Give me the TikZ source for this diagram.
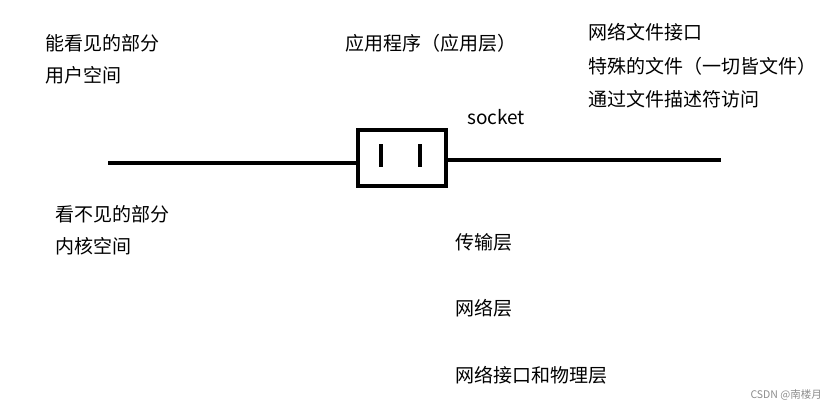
\documentclass[tikz,border=0pt]{standalone}
\usepackage{fontspec}
\setmainfont{Noto Sans CJK SC}
\usetikzlibrary{positioning}
\tikzset{
  lbl/.style={anchor=west, inner sep=0pt, font=\fontsize{19}{21}\selectfont},
  wire/.style={line width=4pt},
}
\begin{document}
\begin{tikzpicture}[x=1pt, y=-1pt]
    % Rahmen
    \useasboundingbox (0,0) rectangle (835,416);

    % Socket
    \node[draw, line width=4pt, minimum width=88pt, minimum height=56pt, inner sep=0pt] (sock) at (401.5,157.5) {};
    \draw[wire] ([xshift=-21pt,yshift=-9pt]sock.center) -- ([xshift=-21pt,yshift=14pt]sock.center);
    \draw[wire] ([xshift=18pt,yshift=-9pt]sock.center) -- ([xshift=18pt,yshift=14pt]sock.center);
    \node[lbl] (socklbl) at (467,117) {socket};

    % Linien
    \coordinate (lend) at (108,163);
    \coordinate (rend) at (721,160);
    \draw[wire] (lend) -- (lend -| sock.west);
    \draw[wire] (sock.east |- rend) -- (rend);

    % Oben
    \node[lbl] (see1) at (45,43) {能看见的部分};
    \node[lbl] (see2) at (45,75) {用户空间};
    \node[lbl] (app) at (345,43) {应用程序（应用层）};
    \node[lbl] (file1) at (588,32) {网络文件接口};
    \node[lbl] (file2) at (588,66) {特殊的文件（一切皆文件）};
    \node[lbl] (file3) at (588,99) {通过文件描述符访问};

    % Unten
    \node[lbl] (hide1) at (55,214) {看不见的部分};
    \node[lbl] (hide2) at (55,246) {内核空间};
    \node[lbl] (trans) at (455,242) {传输层};
    \node[lbl] (net) at (455,308) {网络层};
    \node[lbl] (phys) at (455,375) {网络接口和物理层};

    \node[lbl, anchor=east, font=\fontsize{10.5}{12}\selectfont, text=black!45] (mark) at (822,395) {CSDN @南楼月};
\end{tikzpicture}
\end{document}
